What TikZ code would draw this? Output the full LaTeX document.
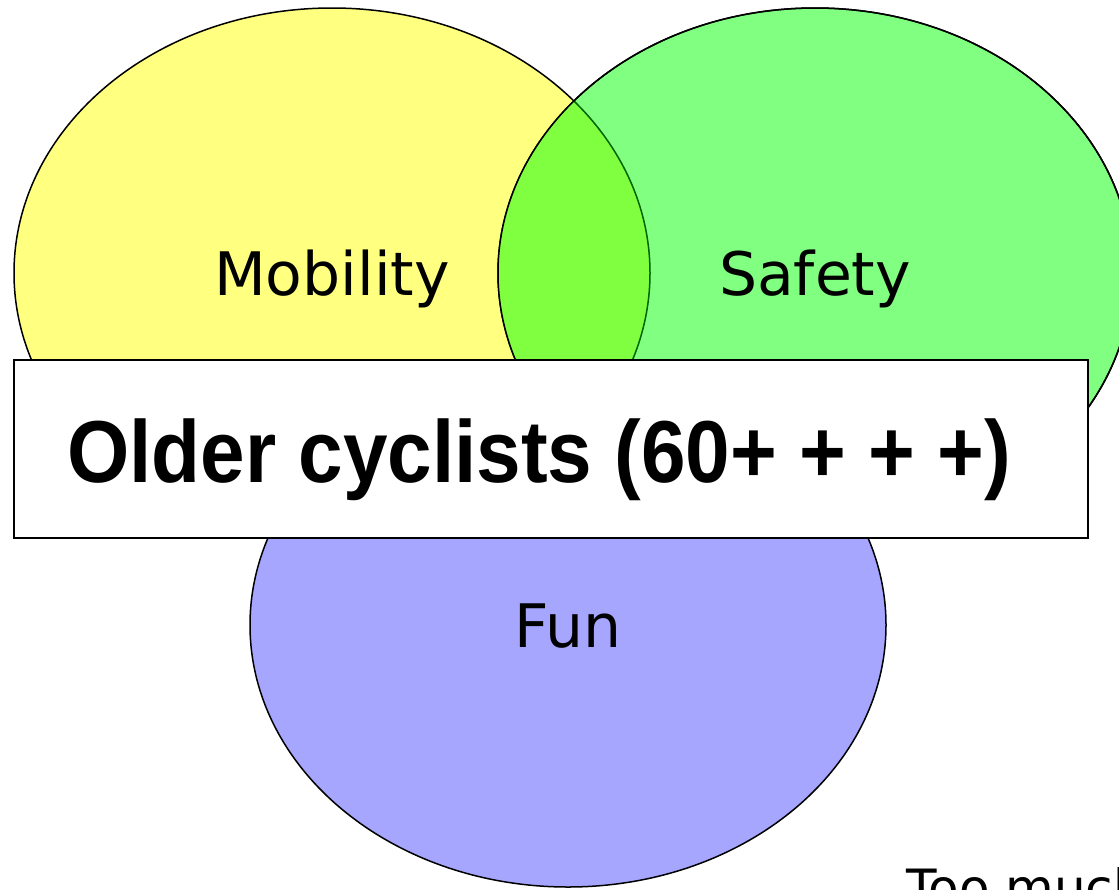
\documentclass[tikz,border=0pt]{standalone}
\usepackage{fontspec}
\setmainfont{DejaVu Sans}
\newfontfamily\titlefont[FakeStretch=0.91]{Liberation Sans}
\usepackage{tikz}
\usetikzlibrary{shapes.geometric}

\definecolor{mobfill}{HTML}{FFFF80}
\definecolor{saffill}{HTML}{80FF80}
\definecolor{bothfill}{HTML}{80FF40}
\definecolor{funfill}{HTML}{A6A6FF}
\definecolor{bothline}{HTML}{006400}

\begin{document}
\begin{tikzpicture}
		[x=0.5pt,y=-0.5pt,
		 set/.style= {ellipse,draw=black,line width=0.75pt,inner sep=0pt,
			font=\fontsize{30pt}{30pt}\selectfont,text height=22pt,text depth=0pt},
		 frame/.style= {rectangle,draw=black,fill=white,line width=1pt,inner sep=0pt,
			font=\titlefont\bfseries\fontsize{44pt}{44pt}\selectfont,text height=41pt,text depth=8pt}]

		\useasboundingbox (0,0) rectangle (1119,889);

		\node[set,fill=mobfill,minimum width=318pt,minimum height=265pt] (mob) at (332,273) {Mobility}
		;

		\node[set,fill=saffill,minimum width=317pt,minimum height=265pt] (saf) at (815,273) {Safety}
		;

		% overlap of mobility and safety
		\begin{scope}
			\clip (saf.center) ellipse [x radius=158.5pt, y radius=132.5pt];
			\fill[bothfill] (mob.center) ellipse [x radius=159pt, y radius=132.5pt];
			\draw[bothline,line width=0.75pt] (mob.center) ellipse [x radius=159pt, y radius=132.5pt];
		\end{scope}
		\draw[line width=0.75pt] (saf.center) ellipse [x radius=158.5pt, y radius=132.5pt];

		\node[set,fill=funfill,minimum width=318pt,minimum height=262pt] (fun) at (568,625) {Fun}
		;

		\node[frame,minimum width=537pt,minimum height=89pt] (old) at (551,449) {\hspace*{-12pt}Older cyclists (60+ + + +)}
		;

		\node[anchor=base west,inner sep=0pt,font=\fontsize{25pt}{25pt}\selectfont] (much) at (906,905) {Too much}
		;

	\end{tikzpicture}
\end{document}
